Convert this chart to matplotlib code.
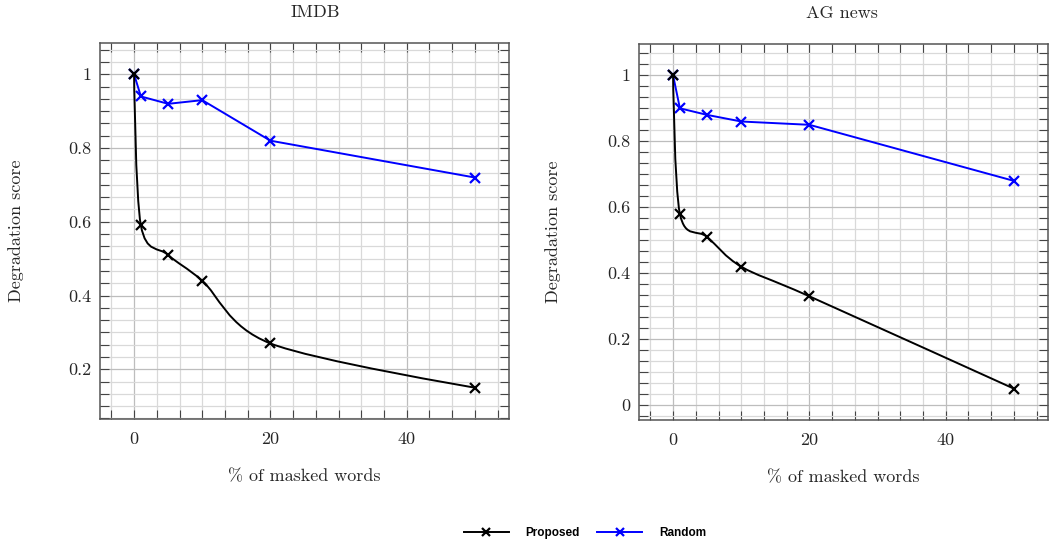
import matplotlib
matplotlib.use("Agg")
import matplotlib.pyplot as plt
from matplotlib.path import Path
from matplotlib.patches import PathPatch
from matplotlib.lines import Line2D
from matplotlib.ticker import MultipleLocator, FuncFormatter
import numpy as np

plt.rcParams['font.family'] = 'cmr10'
plt.rcParams['axes.formatter.use_mathtext'] = True

masked = [0, 1, 5, 10, 20, 50]
imdb_proposed = [1.0, 0.59, 0.51, 0.44, 0.27, 0.15]
imdb_random = [1.0, 0.94, 0.92, 0.93, 0.82, 0.72]
ag_proposed = [1.0, 0.58, 0.51, 0.42, 0.33, 0.05]
ag_random = [1.0, 0.90, 0.88, 0.86, 0.85, 0.68]

TEXT = '#262626'
FS = 13


def smooth_path(xs, ys, k=0.16):
    # bezier curve like tikz "smooth"
    p = np.column_stack([xs, ys]).astype(float)
    n = len(p)
    verts = [p[0]]
    codes = [Path.MOVETO]
    for i in range(n - 1):
        c1 = p[i] if i == 0 else p[i] + k * (p[i + 1] - p[i - 1])
        c2 = p[i + 1] if i == n - 2 else p[i + 1] - k * (p[i + 2] - p[i])
        verts += [c1, c2, p[i + 1]]
        codes += [Path.CURVE4] * 3
    return Path(verts, codes)


def draw_panel(ax, title, title_x, proposed, random_, ylim, ylabel_x):
    ax.set_xlim(-5, 55)
    ax.set_ylim(*ylim)
    ax.xaxis.set_major_locator(MultipleLocator(20))
    ax.xaxis.set_minor_locator(MultipleLocator(20 / 6))
    ax.yaxis.set_major_locator(MultipleLocator(0.2))
    ax.yaxis.set_minor_locator(MultipleLocator(0.2 / 6))
    ax.yaxis.set_major_formatter(FuncFormatter(lambda v, pos: '%g' % round(v, 2)))
    ax.xaxis.set_major_formatter(FuncFormatter(lambda v, pos: '%g' % round(v, 2)))

    ax.grid(which='major', color='#bdbdbd', lw=0.9, zorder=0)
    ax.grid(which='minor', color='#d9d9d9', lw=0.9, zorder=0)
    ax.set_axisbelow(True)
    ax.tick_params(which='both', direction='in', top=True, right=True,
                   color='#444444', width=0.8, labelcolor=TEXT, labelsize=FS)
    ax.tick_params(which='major', length=6.5)
    ax.tick_params(which='minor', length=6.5)
    ax.tick_params(axis='x', pad=9)
    ax.tick_params(axis='y', pad=6)
    for s in ax.spines.values():
        s.set_color('#555555')
        s.set_linewidth(1.1)

    ax.plot(masked, random_, color='#0000ff', lw=1.4, marker='x', ms=7, mew=1.6, zorder=3)
    ax.add_patch(PathPatch(smooth_path(masked, proposed), facecolor='none',
                           edgecolor='black', lw=1.4, zorder=3))
    ax.plot(masked, proposed, linestyle='none', color='black', marker='x', ms=7, mew=1.6, zorder=4)

    ax.text(title_x, 1 + 31 / 376, title, transform=ax.transAxes, ha='center', va='center',
            fontsize=FS, color=TEXT)
    ax.set_xlabel('% of masked words', fontsize=FS, color=TEXT, va='center')
    ax.xaxis.set_label_coords(0.5, -(477 - 419) / 376)
    ax.set_ylabel('Degradation score', fontsize=FS, color=TEXT, va='center')
    ax.yaxis.set_label_coords(ylabel_x, 0.5)


fig = plt.figure(figsize=(10.51, 5.39), dpi=100)
ax1 = fig.add_axes([100 / 1051, 1 - 419 / 539, 409 / 1051, 376 / 539])
ax2 = fig.add_axes([639 / 1051, 1 - 420 / 539, 409 / 1051, 376 / 539])

draw_panel(ax1, 'IMDB', 0.526, imdb_proposed, imdb_random, (0.065, 1.085), -0.205)
draw_panel(ax2, 'AG news', 0.496, ag_proposed, ag_random, (-0.045, 1.095), -0.21)

handles = [
    Line2D([], [], color='black', lw=1.4, marker='x', ms=6, mew=1.6),
    Line2D([], [], color='#0000ff', lw=1.4, marker='x', ms=6, mew=1.6),
]
fig.legend(handles, ['Proposed', 'Random'], loc='center', ncol=2,
           bbox_to_anchor=(585 / 1051, 1 - 533 / 539), frameon=False,
           prop={'family': 'Liberation Sans', 'weight': 'bold', 'size': 8.5},
           handlelength=3.8, handletextpad=1.4, columnspacing=1.5)

fig.savefig('out.png', dpi=100)
